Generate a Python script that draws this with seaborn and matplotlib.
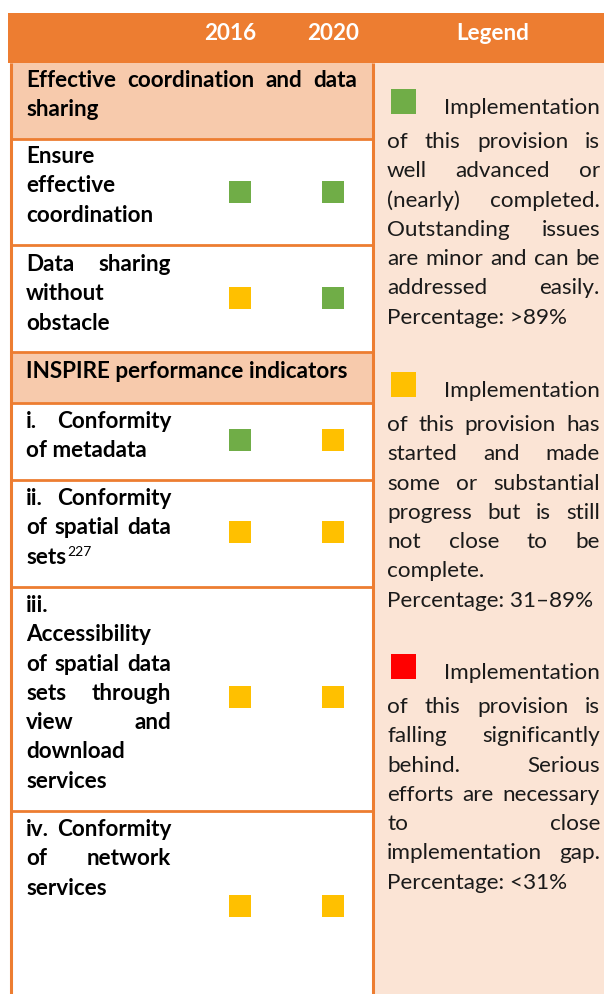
import matplotlib
matplotlib.use("Agg")
import matplotlib.pyplot as plt
import seaborn as sns
import pandas as pd
from matplotlib.patches import Rectangle

sns.set_theme(style="white")
plt.rcParams['font.family'] = ['Lato', 'DejaVu Sans']

# ---------------- data ----------------
years = ["2016", "2020"]
indicators = ["Ensure effective coordination", "Data sharing without obstacle",
              "i. Conformity of metadata", "ii. Conformity of spatial data sets",
              "iii. Accessibility of spatial data sets through view and download services",
              "iv. Conformity of network services"]
status_2016 = ["advanced", "progress", "advanced", "progress", "progress", "progress"]
status_2020 = ["advanced", "advanced", "progress", "progress", "progress", "progress"]
status_colors = {"advanced": "#70AD47", "progress": "#FFC000", "behind": "#FF0000"}
legend_status = ["advanced", "progress", "behind"]
section_titles = [["Effective coordination and data", "sharing"],
                  ["INSPIRE performance indicators"]]
legend_texts = [
    [("Implementation", 'r'), ("of this provision is", 'j'), ("well advanced or", 'j'),
     ("(nearly) completed.", 'j'), ("Outstanding issues", 'j'), ("are minor and can be", 'j'),
     ("addressed easily.", 'j'), ("Percentage: >89%", 'l')],
    [("Implementation", 'r'), ("of this provision has", 'j'), ("started and made", 'j'),
     ("some or substantial", 'j'), ("progress but is still", 'j'), ("not close to be", 'j'),
     ("complete.", 'l'), ("Percentage: 31\u201389%", 'l')],
    [("Implementation", 'r'), ("of this provision is", 'j'), ("falling significantly", 'j'),
     ("behind. Serious", 'j'), ("efforts are necessary", 'j'), ("to close", 'j'),
     ("implementation gap.", 'j'), ("Percentage: <31%", 'l')],
]
row_lines = [
    [("Ensure", 'l'), ("effective", 'l'), ("coordination", 'l')],
    [("Data sharing", 'j'), ("without", 'l'), ("obstacle", 'l')],
    [("i. Conformity", 'j'), ("of metadata", 'l')],
    [("ii. Conformity", 'j'), ("of spatial data", 'j'), ("sets", 'l')],
    [("iii.", 'l'), ("Accessibility", 'l'), ("of spatial data", 'j'), ("sets through", 'j'),
     ("view and", 'j'), ("download", 'l'), ("services", 'l')],
    [("iv. Conformity", 'j'), ("of network", 'j'), ("services", 'l')],
]
footnote = "227"

# ---------------- layout ----------------
W, H = 604, 994
ORANGE = "#ED7D31"
SECTION_FILL = "#F7CAAC"
LEGEND_FILL = "#FBE4D5"
FS = 16.2

fig = plt.figure(figsize=(W / 100, H / 100), dpi=100)
ax = fig.add_axes([0, 0, 1, 1])
renderer = fig.canvas.get_renderer()

# background fills
ax.add_patch(Rectangle((8, 13), W - 8, 50, color=ORANGE, lw=0, zorder=1))
ax.add_patch(Rectangle((373, 63), W - 373, H - 63, color=LEGEND_FILL, lw=0, zorder=1))
ax.add_patch(Rectangle((10, 63), 363, 76, color=SECTION_FILL, lw=0, zorder=1))
ax.add_patch(Rectangle((10, 352), 363, 51, color=SECTION_FILL, lw=0, zorder=1))

# borders
for yy in [139, 245, 352, 403, 480, 587, 811]:
    ax.plot([10, 373], [yy, yy], color=ORANGE, lw=2.0, zorder=3, solid_capstyle='butt')
for xx in [10.5, 373]:
    ax.plot([xx, xx], [63, H], color=ORANGE, lw=2.2, zorder=3, solid_capstyle='butt')


def word_w(word, **kw):
    t = ax.text(0, 0, word, **kw)
    w = t.get_window_extent(renderer).width
    t.remove()
    return w


def put_line(s, x0, x1, y, mode, **kw):
    words = s.split()
    if mode == 'j' and len(words) > 1:
        ws = [word_w(w, **kw) for w in words]
        gap = (x1 - x0 - sum(ws)) / (len(words) - 1)
        x = x0
        for w, wd in zip(words, ws):
            ax.text(x, y, w, ha='left', va='baseline', zorder=6, **kw)
            x += wd + gap
    elif mode == 'r':
        ax.text(x1, y, s, ha='right', va='baseline', zorder=6, **kw)
    else:
        ax.text(x0, y, s, ha='left', va='baseline', zorder=6, **kw)


# header
hdr = dict(fontsize=FS, fontweight='bold', color='white')
ax.text(230, 40, years[0], ha='center', va='baseline', zorder=6, **hdr)
ax.text(333, 40, years[1], ha='center', va='baseline', zorder=6, **hdr)
ax.text(493, 40, "Legend", ha='center', va='baseline', zorder=6, **hdr)

bold = dict(fontsize=FS, fontweight='bold', color='black')
# section titles
put_line(section_titles[0][0], 26, 357, 87, 'j', **bold)
put_line(section_titles[0][1], 26, 357, 116, 'l', **bold)
put_line(section_titles[1][0], 26, 357, 378, 'l', **bold)

# row texts
row_first_baseline = [163, 271, 428, 505, 612, 836]
LS = 29.3
for lines, b0 in zip(row_lines, row_first_baseline):
    for k, (s, m) in enumerate(lines):
        put_line(s, 26, 171, b0 + k * LS, m, **bold)
# superscript footnote after "sets" in row ii
sw = word_w("sets", **bold)
ax.text(26 + sw + 1, 505 + 2 * LS - 8, footnote, fontsize=10, color='black',
        ha='left', va='baseline', zorder=6)

# status squares (seaborn)
row_centers = [192, 298, 440, 532, 697, 906]
col_x = {"2016": 240, "2020": 333}
df = pd.DataFrame({
    "indicator": indicators * 2,
    "year": [years[0]] * len(indicators) + [years[1]] * len(indicators),
    "status": status_2016 + status_2020,
})
df["x"] = df["year"].map(col_x)
df["y"] = df["indicator"].map(dict(zip(indicators, row_centers)))
sns.scatterplot(data=df, x="x", y="y", hue="status", palette=status_colors,
                marker="s", s=251, linewidth=0, legend=False, ax=ax, zorder=5)

# legend column
reg = dict(fontsize=FS, color='#1a1a1a')
legend_first = [114, 397, 679]
legend_sq_center = [101, 384.5, 666.5]
for lines, b0 in zip(legend_texts, legend_first):
    put_line(lines[0][0], 387, 600, b0, 'r', **reg)
    b = b0 + 34
    for s, m in lines[1:]:
        put_line(s, 387, 600, b, m, **reg)
        b += LS
ldf = pd.DataFrame({"status": legend_status, "x": [403.5] * 3, "y": legend_sq_center})
sns.scatterplot(data=ldf, x="x", y="y", hue="status", palette=status_colors,
                marker="s", s=324, linewidth=0, legend=False, ax=ax, zorder=5)

ax.set_xlim(0, W)
ax.set_ylim(H, 0)
ax.axis('off')
fig.savefig("out.png", dpi=100, facecolor='white')
